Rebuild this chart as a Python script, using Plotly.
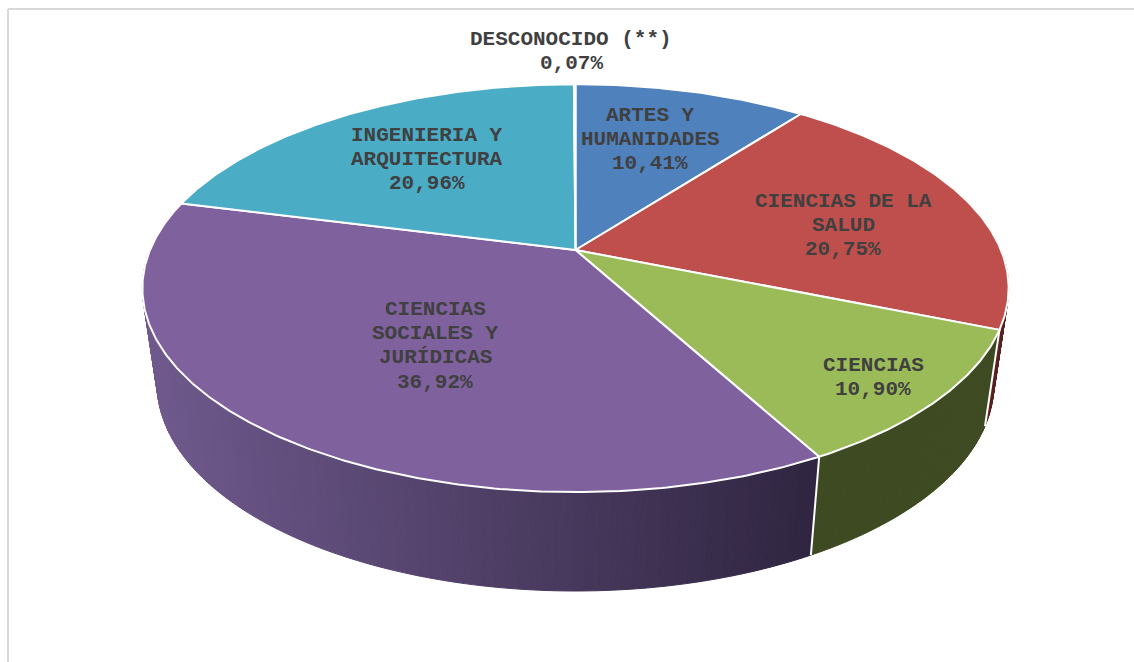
import numpy as np
import plotly.graph_objects as go

categories = ["ARTES Y HUMANIDADES", "CIENCIAS DE LA SALUD", "CIENCIAS",
              "CIENCIAS SOCIALES Y JURÍDICAS", "INGENIERIA Y ARQUITECTURA", "DESCONOCIDO (**)"]
values = [10.41, 20.75, 10.90, 36.92, 20.96, 0.07]
value_labels = ["10,41%", "20,75%", "10,90%", "36,92%", "20,96%", "0,07%"]
label_lines = [["ARTES Y", "HUMANIDADES"], ["CIENCIAS DE LA", "SALUD"], ["CIENCIAS"],
               ["CIENCIAS", "SOCIALES Y", "JURÍDICAS"], ["INGENIERIA Y", "ARQUITECTURA"],
               ["DESCONOCIDO (**)"]]
top_colors = ["#4f81bd", "#bf4f4c", "#9bbb59", "#7f619e", "#4bacc6", "#f79646"]
side_left = ["#4f81bd", "#5a2020", "#3e4a21", "#705a8e", "#4bacc6", "#f79646"]
side_right = ["#4f81bd", "#5a2020", "#3e4a21", "#2f2540", "#4bacc6", "#f79646"]
label_x = [650, 843, 873, 435, 427, 571]
label_y = [115, 201, 365, 309, 135, 39]

W, H = 1134, 662
CX, CY, A, B, K = 575.5, 250.0, 425.5, 196.8, 0.187
A_LOW, B_LOW, CY_LOW = 411.0, 200.0, 345.0


def project(theta, low=False):
    u, v = np.sin(theta), np.cos(theta)
    d = 1 + K * v
    if low:
        return CX + A_LOW * u / d, CY_LOW - B_LOW * v / d
    return CX + A * u / d, CY - B * v / d


def hex2rgb(c):
    return np.array([int(c[i:i + 2], 16) for i in (1, 3, 5)], float)


fig = go.Figure()
total = sum(values)
edges = np.cumsum([0] + values) / total * 2 * np.pi
x_min, x_max = 155.0, 815.0

# sides (front half only)
for i in range(len(values)):
    lo, hi = max(edges[i], np.pi / 2), min(edges[i + 1], 3 * np.pi / 2)
    if hi <= lo:
        continue
    n = max(2, int((hi - lo) / 0.012))
    ts = np.linspace(lo, hi, n + 1)
    c0, c1 = hex2rgb(side_left[i]), hex2rgb(side_right[i])
    for a, b in zip(ts[:-1], ts[1:]):
        xa, ya = project(a)
        xb, yb = project(b)
        xc, yc = project(b, True)
        xd, yd = project(a, True)
        f = np.clip((min(xc, xd) - x_min) / (x_max - x_min), 0, 1)
        col = c0 + (c1 - c0) * f
        css = "rgb(%d,%d,%d)" % tuple(col)
        fig.add_trace(go.Scatter(x=[xa, xb, xc, xd, xa], y=[ya, yb, yc, yd, ya], mode="lines",
                                 fill="toself", fillcolor=css, line=dict(color=css, width=1),
                                 hoverinfo="skip", showlegend=False))

# seams between side walls
for e in edges[1:-1]:
    if np.pi / 2 < e < 3 * np.pi / 2:
        x1, y1 = project(e)
        x2, y2 = project(e, True)
        fig.add_trace(go.Scatter(x=[x1, x2], y=[y1, y2], mode="lines", line=dict(color="white", width=2),
                                 hoverinfo="skip", showlegend=False))

# top faces
for i, cat in enumerate(categories):
    ts = np.linspace(edges[i], edges[i + 1], max(3, int((edges[i + 1] - edges[i]) / 0.01)))
    xs, ys = project(ts)
    fig.add_trace(go.Scatter(x=np.r_[CX, xs, CX], y=np.r_[CY, ys, CY], mode="lines", fill="toself",
                             fillcolor=top_colors[i], line=dict(color="white", width=2),
                             name=cat, hoverinfo="name", showlegend=False))

# labels, one annotation per line so the line pitch can follow the reference
PITCH = 24.4
for i in range(len(values)):
    lines = label_lines[i] + [value_labels[i]]
    for j, t in enumerate(lines):
        fig.add_annotation(x=label_x[i], y=label_y[i] + j * PITCH, text="<b>%s</b>" % t, showarrow=False,
                           xanchor="center", yanchor="middle",
                           font=dict(family="Liberation Mono", size=21, color="#404040"))

fig.add_shape(type="line", x0=8, x1=8, y0=9, y1=H, line=dict(color="#d9d9d9", width=2))
fig.add_shape(type="line", x0=8, x1=W, y0=9, y1=9, line=dict(color="#d9d9d9", width=2))

fig.update_layout(width=W, height=H, margin=dict(l=0, r=0, t=0, b=0), paper_bgcolor="white",
                  plot_bgcolor="white", showlegend=False,
                  xaxis=dict(range=[0, W], visible=False, fixedrange=True),
                  yaxis=dict(range=[H, 0], visible=False, fixedrange=True))
fig.write_html("out.html", config=dict(displayModeBar=False),
               post_script="document.body.style.margin='0';document.body.style.overflow='hidden';")
